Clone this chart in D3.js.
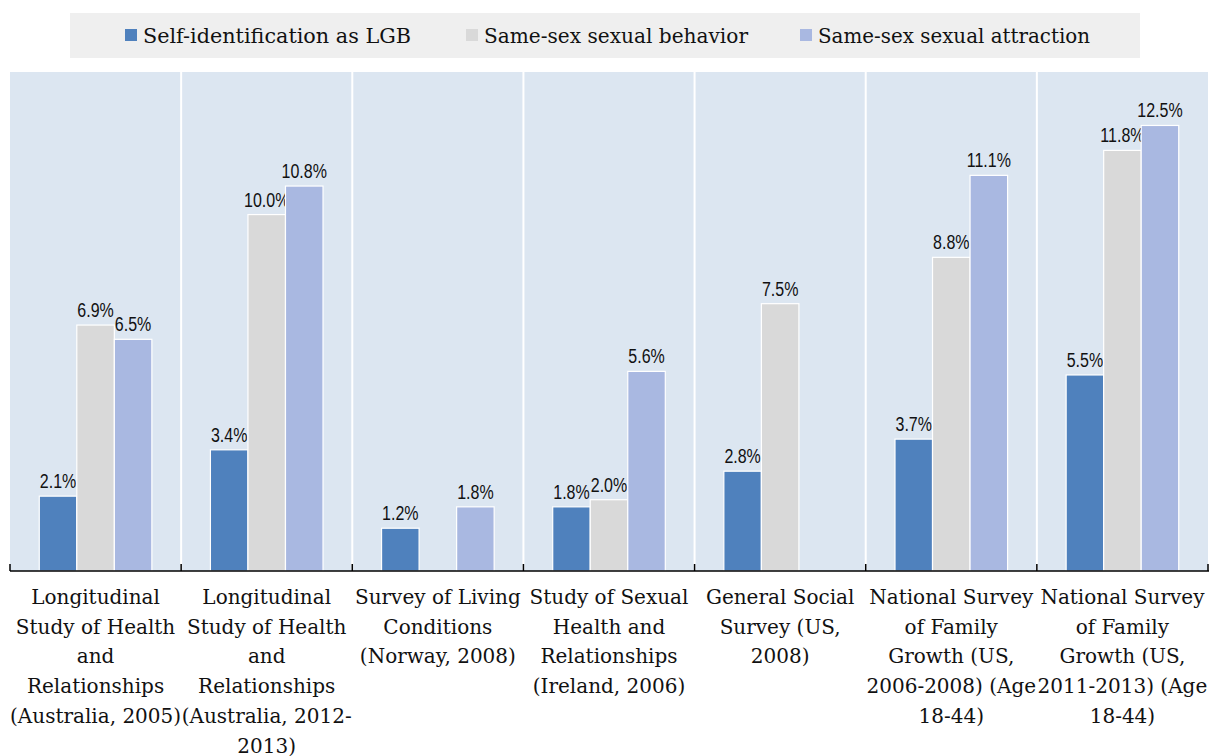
<!DOCTYPE html>
<html><head><meta charset="utf-8">
<script src="https://cdn.jsdelivr.net/npm/d3@7/dist/d3.min.js"></script>
<style>body{margin:0;background:#fff}svg{display:block}</style>
</head><body>
<script>
const categories = [
  ["Longitudinal","Study of Health","and","Relationships","(Australia, 2005)"],
  ["Longitudinal","Study of Health","and","Relationships","(Australia, 2012-","2013)"],
  ["Survey of Living","Conditions","(Norway, 2008)"],
  ["Study of Sexual","Health and","Relationships","(Ireland, 2006)"],
  ["General Social","Survey (US,","2008)"],
  ["National Survey","of Family","Growth (US,","2006-2008) (Age","18-44)"],
  ["National Survey","of Family","Growth (US,","2011-2013) (Age","18-44)"]
];
const seriesNames = ["Self-identification as LGB","Same-sex sexual behavior","Same-sex sexual attraction"];
const selfId    = [2.1, 3.4, 1.2, 1.8, 2.8, 3.7, 5.5];
const behavior  = [6.9, 10.0, null, 2.0, 7.5, 8.8, 11.8];
const attraction= [6.5, 10.8, 1.8, 5.6, null, 11.1, 12.5];
const colors = ["#4f81bd","#d9d9d9","#a9b8e1"];

const SERIF="'DejaVu Serif',serif";
const W=1211,H=756;
const svg=d3.select("body").append("svg").attr("width",W).attr("height",H);

const x0=d3.scaleBand().domain(d3.range(categories.length)).range([10,1208]).padding(0);
const x1=d3.scaleBand().domain(d3.range(3)).range([0,x0.bandwidth()]).paddingInner(0).paddingOuter(0.78);
const y=d3.scaleLinear().domain([0,14]).range([571,72]);

// legend
const lg=svg.append("g");
lg.append("rect").attr("x",70).attr("y",13).attr("width",1070).attr("height",45).attr("fill","#efefef");
const legX=[125,466,800];
seriesNames.forEach((n,i)=>{
  lg.append("rect").attr("x",legX[i]).attr("y",29).attr("width",12).attr("height",12).attr("fill",colors[i]);
  lg.append("text").attr("x",legX[i]+18).attr("y",43).text(n)
    .attr("font-family",SERIF).attr("font-size",21).attr("fill","#111")
    .attr("textLength",[268,264,272][i]).attr("lengthAdjust","spacingAndGlyphs");
});

// panel background
svg.append("rect").attr("x",10).attr("y",y(14)).attr("width",1198).attr("height",y(0)-y(14)).attr("fill","#dce6f1");
svg.selectAll("line.sep").data(d3.range(1,categories.length)).join("line")
  .attr("x1",d=>x0(d)).attr("x2",d=>x0(d)).attr("y1",y(14)).attr("y2",y(0))
  .attr("stroke","#fff").attr("stroke-width",2);

const data=categories.map((c,i)=>({i,vals:[selfId[i],behavior[i],attraction[i]]}));
const g=svg.selectAll("g.cat").data(data).join("g").attr("transform",d=>`translate(${x0(d.i)},0)`);
const bars=g.selectAll("g.b").data(d=>d.vals.map((v,k)=>({v,k})).filter(e=>e.v!=null)).join("g");
bars.append("rect").attr("x",e=>x1(e.k)).attr("width",x1.bandwidth()).attr("y",e=>y(e.v)).attr("height",e=>y(0)-y(e.v))
  .attr("fill",e=>colors[e.k]).attr("stroke","#fff").attr("stroke-width",1.2);
bars.append("text").attr("transform",e=>`translate(${x1(e.k)+x1.bandwidth()/2},${y(e.v)-8}) scale(0.8,1)`)
  .attr("text-anchor","middle").attr("font-family","'Liberation Sans',Arial,sans-serif").attr("font-size",20).attr("fill","#111")
  .text(e=>e.v.toFixed(1)+"%");

// axis
const ax=svg.append("g").attr("transform",`translate(0,${y(0)})`);
ax.append("line").attr("x1",10).attr("x2",1209).attr("stroke","#000").attr("stroke-width",1.5);
ax.selectAll("line.t").data(d3.range(categories.length+1)).join("line")
  .attr("x1",d=>d<categories.length?x0(d):1208).attr("x2",d=>d<categories.length?x0(d):1208)
  .attr("y1",-7).attr("y2",0).attr("stroke","#000").attr("stroke-width",1.5);

// category labels
g.append("text").attr("text-anchor","middle").attr("font-family",SERIF)
  .attr("font-size",20).attr("fill","#111")
  .each(function(d){
    const t=d3.select(this);
    categories[d.i].forEach((line,j)=>t.append("tspan").attr("x",x0.bandwidth()/2).attr("y",604+j*29.7).text(line));
  });
</script>
</body></html>
